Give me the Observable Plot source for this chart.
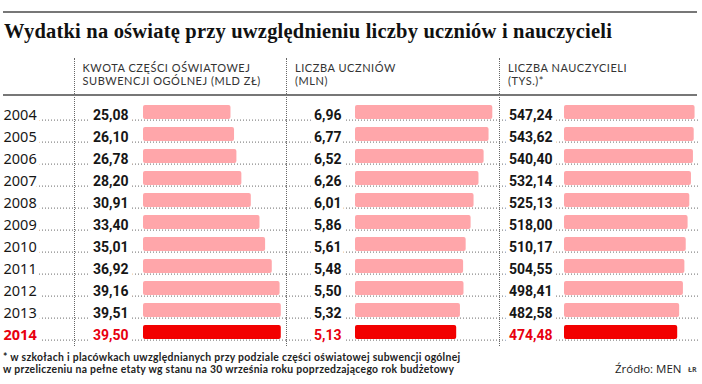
<!DOCTYPE html>
<html>
<head>
<meta charset="utf-8">
<script src="https://cdn.jsdelivr.net/npm/d3@7"></script>
<script src="https://cdn.jsdelivr.net/npm/@observablehq/plot@0.6"></script>
<style>
  html, body { margin: 0; padding: 0; background: #fff; }
  #root { position: relative; width: 702px; height: 384px; overflow: hidden; background: #fff; color: #1a1a1a; }
  .abs { position: absolute; white-space: nowrap; }
  .hrule { position: absolute; left: 3px; width: 694px; height: 2px; background: #777; }
  .vdiv { position: absolute; top: 58px; height: 288px; width: 0; border-left: 1px dotted #666; }
  #title { left: 4px; top: 21.2px; font: bold 20.5px/20.5px "Liberation Serif", serif; letter-spacing: 0.2px; color: #111; }
  .head { font: 400 11px/13.4px Lato, sans-serif; letter-spacing: 0.55px; color: #333; height: 13.4px; }
  .foot { left: 3px; font: 700 10.4px/12.5px Lato, sans-serif; letter-spacing: 0.3px; color: #222; height: 12.5px; }
  #src { left: 615px; top: 362.7px; font: 400 11.5px/11.5px "Open Sans", sans-serif; color: #222; }
  #au { left: 688px; top: 365.5px; font: 700 7px/7px "Open Sans", sans-serif; color: #444; }
  .panel { position: absolute; top: 96px; }
</style>
</head>
<body>
<div id="root">
  <div class="hrule" style="top:11px"></div>
  <div id="title" class="abs">Wydatki na oświatę przy uwzględnieniu liczby uczniów i nauczycieli</div>
  <div class="vdiv" style="left:74px"></div>
  <div class="vdiv" style="left:286px"></div>
  <div class="vdiv" style="left:499px"></div>
  <div id="heads"></div>
  <div class="hrule" style="top:94px"></div>
  <div class="panel" id="p1" style="left:0px"></div>
  <div class="panel" id="p2" style="left:286px"></div>
  <div class="panel" id="p3" style="left:499px"></div>
  <div id="foot"></div>
  <div class="abs" id="src">Źródło: MEN</div>
  <div class="abs" id="au">ŁR</div>
</div>
<script>
// ---- data ----
const years = [2004, 2005, 2006, 2007, 2008, 2009, 2010, 2011, 2012, 2013, 2014];
const subwencja = [25.08, 26.10, 26.78, 28.20, 30.91, 33.40, 35.01, 36.92, 39.16, 39.51, 39.50];
const uczniowie = [6.96, 6.77, 6.52, 6.26, 6.01, 5.86, 5.61, 5.48, 5.50, 5.32, 5.13];
const nauczyciele = [547.24, 543.62, 540.40, 532.14, 525.13, 518.00, 510.17, 504.55, 498.41, 482.58, 474.48];
const headers = [
  ["KWOTA CZĘŚCI OŚWIATOWEJ", "SUBWENCJI OGÓLNEJ (MLD ZŁ)"],
  ["LICZBA UCZNIÓW", "(MLN)"],
  ["LICZBA NAUCZYCIELI", "(TYS.)*"]
];
const footnote = [
  "* w szkołach i placówkach uwzględnianych przy podziale części oświatowej subwencji ogólnej",
  "w przeliczeniu na pełne etaty wg stanu na 30 września roku poprzedzającego rok budżetowy"
];
const highlightYear = 2014;

// ---- style ----
const PINK = "#ffa6aa";
const RED = "#f20000";
const RED_TEXT = "#e8000f";
const DARK = "#161616";
const headLefts = [82.5, 295, 508];

const headsEl = document.getElementById("heads");
headers.forEach((h, i) => {
  h.forEach((line, j) => {
    const d = document.createElement("div");
    d.className = "abs head";
    d.style.left = headLefts[i] + "px";
    d.style.top = (60.74 + j * 13.4) + "px";
    d.textContent = line;
    headsEl.append(d);
  });
});
const footEl = document.getElementById("foot");
footnote.forEach((line, j) => {
  const d = document.createElement("div");
  d.className = "abs foot";
  d.style.top = (350.7 + j * 12.5) + "px";
  d.textContent = line;
  footEl.append(d);
});

const fmt = v => v.toFixed(2).replace(".", ",");

function panel(values, {width, marginLeft, marginRight, xmax, valueDx, withYears}) {
  const rows = years.map((year, i) => ({year, value: values[i]}));
  const base = rows.filter(d => d.year !== highlightYear);
  const hl = rows.filter(d => d.year === highlightYear);
  const valueFont = {fontFamily: "Roboto", fontSize: 14, fontWeight: 700};
  const textCommon = {
    y: "year", frameAnchor: "left", lineAnchor: "bottom", dy: 7,
    stroke: "white", strokeWidth: 9, paintOrder: "stroke"
  };
  const marks = [
    Plot.ruleY(rows, {y: "year", dy: 7.6, insetLeft: -marginLeft, insetRight: 0,
      stroke: "#6a6a6a", strokeWidth: 1, strokeDasharray: "1,2"}),
    Plot.barX(base, {y: "year", x: "value", fill: PINK, rx: 2}),
    Plot.barX(hl, {y: "year", x: "value", fill: RED, rx: 2}),
    Plot.text(base, {...textCommon, text: d => fmt(d.value), dx: valueDx, textAnchor: "end",
      fill: DARK, ...valueFont, style: "letter-spacing:-0.6px"}),
    Plot.text(hl, {...textCommon, text: d => fmt(d.value), dx: valueDx, textAnchor: "end",
      fill: RED_TEXT, ...valueFont})
  ];
  if (withYears) {
    marks.push(
      Plot.text(base, {...textCommon, text: d => String(d.year), dx: -marginLeft + 3, textAnchor: "start",
        fill: DARK, fontFamily: "Noto Sans", fontSize: 14.5, fontWeight: 400}),
      Plot.text(hl, {...textCommon, text: d => String(d.year), dx: -marginLeft + 3, textAnchor: "start",
        fill: RED_TEXT, fontFamily: "Noto Sans", fontSize: 14.5, fontWeight: 700})
    );
  }
  return Plot.plot({
    width, height: 256,
    marginLeft, marginRight, marginTop: 2.25, marginBottom: 6.25,
    x: {domain: [0, xmax], axis: null},
    y: {domain: years, axis: null, paddingInner: 0.36, paddingOuter: 0.18},
    style: {background: "transparent", overflow: "visible"},
    marks
  });
}

document.getElementById("p1").append(panel(subwencja, {width: 286, marginLeft: 143, marginRight: 0, xmax: 41, valueDx: -15, withYears: true}));
document.getElementById("p2").append(panel(uczniowie, {width: 213, marginLeft: 69, marginRight: 0, xmax: 7.3, valueDx: -14}));
document.getElementById("p3").append(panel(nauczyciele, {width: 203, marginLeft: 65, marginRight: 2, xmax: 570, valueDx: -12}));
</script>
</body>
</html>
